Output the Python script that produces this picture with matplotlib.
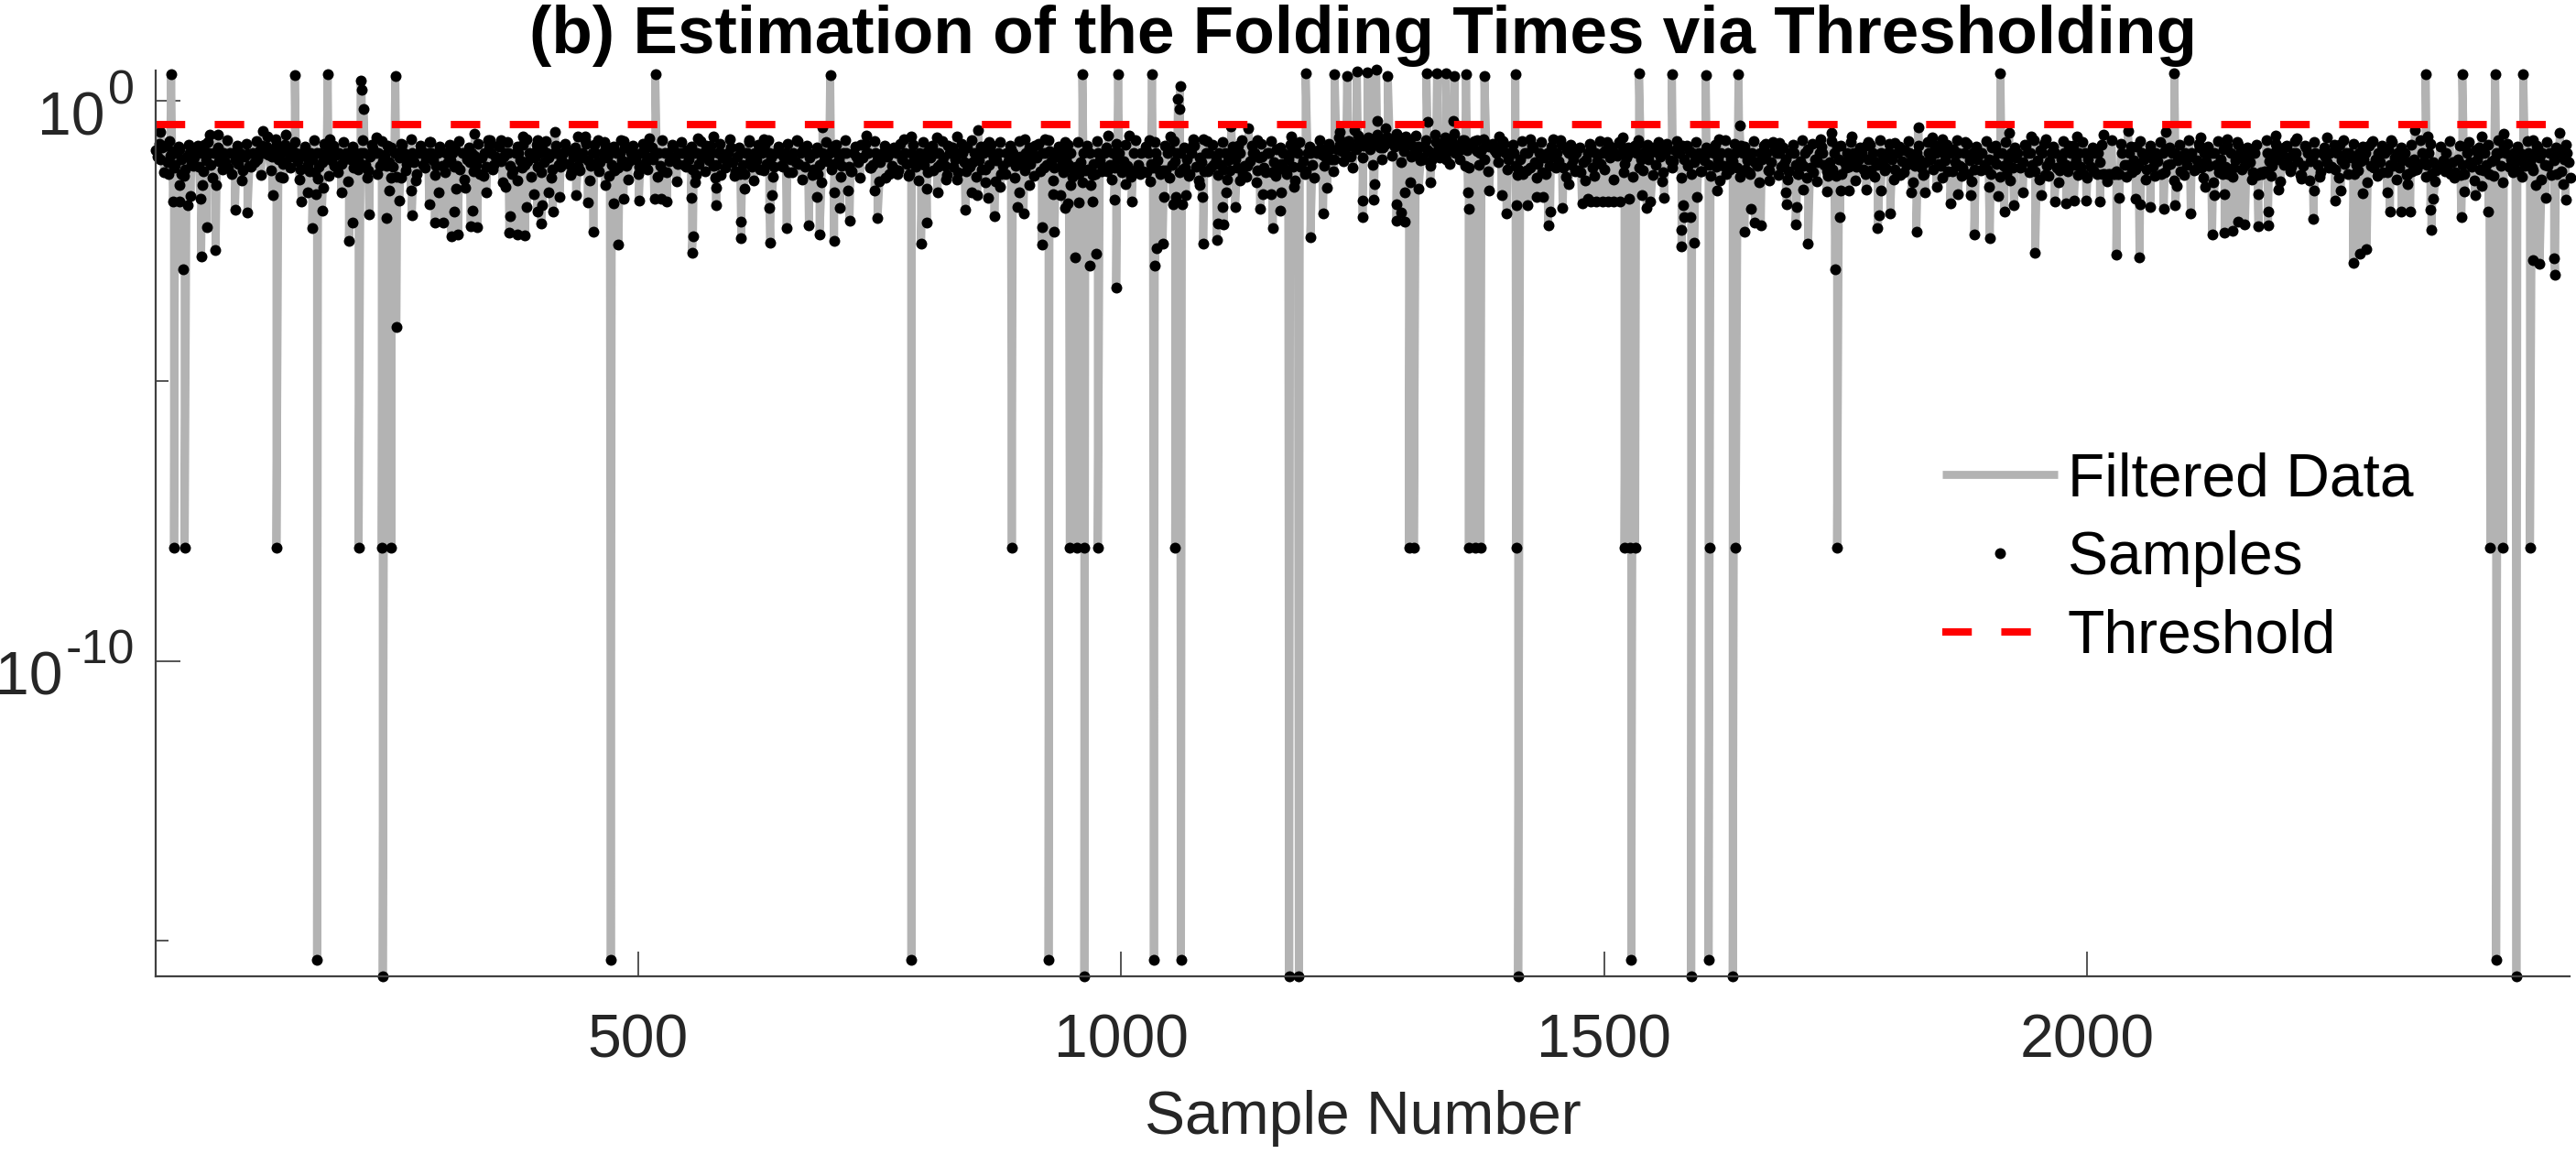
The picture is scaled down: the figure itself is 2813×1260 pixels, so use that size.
import matplotlib
matplotlib.use("Agg")
import matplotlib.pyplot as plt
import numpy as np

plt.rcParams['font.family'] = ['Liberation Sans', 'DejaVu Sans']

# all y values below are log10 of the sample
threshold_exp = -0.426

top_x = [17, 145, 179, 213, 214, 216, 249, 518, 699, 960, 997, 1032, 1059, 1060, 1061, 1191, 1221, 1234,
         1244, 1255, 1264, 1276, 1316, 1327, 1336, 1345, 1357, 1376, 1408, 1536, 1570, 1605, 1639, 1910,
         2090, 2350, 2388, 2422, 2451]
top_y = [0.47, 0.46, 0.47, 0.36, 0.19, -0.15, 0.44, 0.47, 0.46, 0.48, 0.47, 0.47, 0.04, -0.15, 0.27, 0.49,
         0.47, 0.45, 0.52, 0.50, 0.55, 0.45, 0.49, 0.49, 0.49, 0.45, 0.48, 0.45, 0.47, 0.49, 0.48, 0.46,
         0.47, 0.49, 0.49, 0.47, 0.48, 0.48, 0.48]

floor_x = [20, 31, 126, 211, 235, 245, 887, 947, 954, 962, 976, 1056, 1298, 1303, 1360, 1367, 1372, 1409,
           1521, 1527, 1532, 1609, 1636, 1741, 2417, 2430, 2458]
floor_y = [-7.98] * len(floor_x)

deep_x = [168, 472, 783, 925, 1034, 1062, 1528, 1608, 2423]
deep_y = [-15.33] * len(deep_x)
lowest_x = [236, 962, 1174, 1184, 1411, 1590, 1633, 2444]
lowest_y = [-15.63] * len(lowest_x)

low_x = [29, 48, 63, 54, 19, 26, 34, 37, 47, 64, 26, 14, 28, 49, 83, 96, 122, 133, 152, 163, 173, 158, 167, 174,
         169, 193, 201, 205, 222, 240, 243, 253, 245, 255, 265, 266, 250, 284, 294, 290, 299, 307, 314, 310, 312,
         321, 329, 327, 334, 343, 363, 368, 367, 375, 383, 375, 392, 385, 396, 400, 401, 412, 408, 419, 436, 448,
         454, 466, 475, 480, 485, 501, 517, 524, 530, 556, 557, 555, 581, 581, 559, 586, 607, 607, 610, 637, 636,
         639, 654, 677, 685, 688,
         703, 719, 748, 709, 703, 717, 745, 756, 769, 793, 799, 799, 810, 819, 839, 845, 851, 862, 869, 860, 875,
         895, 893, 899, 905, 918, 918, 931, 930, 937, 945, 942, 948, 956, 970, 969, 952, 968, 974, 995, 993, 1011,
         1005, 1035, 1037, 1043, 1044, 1057, 1054, 1063, 1067, 1081, 1084, 1085, 1099, 1100, 1106, 1105, 1109, 1118,
         1123, 1144, 1147, 1155, 1157, 1165, 1166, 1179, 1196, 1209, 1213, 1250, 1250, 1261, 1262, 1285, 1290, 1285,
         1294, 1294, 1299, 1308, 1320, 1359, 1360, 1381, 1394, 1399, 1409, 1421, 1430, 1437, 1444, 1442, 1457, 1463,
         1477, 1483, 1486, 1492, 1498, 1504, 1510, 1516, 1526, 1539, 1544, 1548, 1562, 1582, 1583, 1589, 1580, 1580,
         1593, 1596, 1617,
         1645, 1652, 1656, 1662, 1671, 1688, 1689, 1698, 1699, 1711, 1706, 1730, 1739, 1744, 1745, 1753, 1771, 1783,
         1784, 1796, 1786, 1818, 1823, 1832, 1844, 1858, 1866, 1879, 1883, 1899, 1898, 1914, 1908, 1924, 1933, 1946,
         1952, 1966, 1978, 1986, 1999, 2013, 2030, 2033, 2054, 2050, 2055, 2065, 2079, 2091, 2107, 2092, 2122, 2131,
         2142, 2129, 2142, 2150, 2156, 2163, 2177, 2187, 2187, 2177, 2198, 2221, 2234, 2235, 2256, 2262, 2275, 2282,
         2289, 2285, 2310, 2313, 2325, 2334, 2331, 2355, 2356, 2358, 2387, 2390, 2401, 2408, 2415, 2464, 2461, 2468,
         2483, 2484, 2474, 2495, 2492]
low_y = [-3.01, -2.78, -2.67, -2.26, -1.79, -1.80, -1.86, -1.70, -1.75, -1.50, -1.50, -1.30, -1.30, -1.50, -1.95, -1.99,
         -1.68, -1.38, -1.80, -2.27, -1.96, -1.64, -1.67, -1.56, -1.39, -1.64, -2.50, -2.17, -2.03, -2.10, -1.60, -1.78,
         -1.38, -1.37, -1.60, -2.05, -4.04, -1.84, -1.64, -2.17, -2.17, -2.42, -2.38, -1.98, -1.57, -1.56, -1.96, -2.24,
         -2.25, -1.64, -1.54, -2.06, -2.36, -2.39, -2.40, -1.42, -1.67, -1.90, -1.97, -2.19, -1.86, -1.97, -1.64, -1.72,
         -1.68, -1.82, -2.34, -1.51, -1.83, -2.57, -1.75, -1.78, -1.75, -1.75, -1.80, -2.72, -2.42, -1.74, -1.86, -1.56,
         -1.45, -1.32, -2.45, -2.15, -1.57, -2.53, -1.92, -1.68, -2.28, -2.23, -1.72, -2.39,
         -2.50, -2.14, -2.09, -1.91, -1.64, -1.60, -1.60, -1.37, -1.31, -2.55, -2.17, -1.57, -1.64, -1.41, -1.95, -1.64,
         -1.68, -1.74, -2.06, -1.45, -1.54, -1.63, -1.89, -2.01, -1.51, -2.25, -2.56, -2.33, -1.67, -1.68, -1.83, -1.91,
         -1.50, -1.82, -1.80, -1.50, -2.80, -2.94, -2.73, -3.34, -1.77, -1.79, -1.48, -2.94, -2.63, -2.55, -1.72, -1.72,
         -1.85, -1.85, -1.68, -1.50, -1.72, -2.55, -2.49, -2.19, -2.20, -1.89, -1.63, -1.90, -1.42, -1.93, -1.67, -1.66,
         -2.28, -1.96, -1.64, -1.54, -2.43, -2.01, -1.55, -2.08, -1.78, -1.77, -1.49, -1.84, -2.00, -2.14, -2.16, -1.63,
         -1.45, -1.57, -1.45, -1.63, -1.93, -1.60, -1.69, -2.01, -1.87, -1.86, -1.72, -1.72, -1.97, -2.22, -1.92, -1.48,
         -1.83, -1.75, -1.79, -1.79, -1.79, -1.79, -1.79, -1.79, -1.75, -1.69, -1.91, -1.80, -1.74, -1.86, -2.08, -2.08,
         -2.30, -2.60, -2.53, -1.72, -1.60,
         -2.34, -1.93, -2.17, -2.22, -1.42, -1.63, -1.85, -2.20, -1.89, -2.55, -1.58, -1.62, -3.01, -2.08, -1.61, -1.61,
         -1.58, -2.27, -2.05, -2.01, -1.60, -1.64, -2.34, -1.64, -1.54, -1.83, -1.67, -1.68, -2.39, -2.45, -1.53, -1.97,
         -1.70, -1.86, -1.63, -2.72, -1.69, -1.80, -1.83, -1.78, -1.78, -1.79, -2.75, -1.73, -2.80, -1.75, -1.85, -1.90,
         -1.93, -1.86, -2.01, -1.52, -1.53, -1.68, -1.67, -2.39, -2.35, -2.32, -2.16, -2.21, -2.24, -2.23, -1.97, -1.67,
         -1.58, -1.39, -2.11, -1.60, -1.78, -1.61, -2.90, -2.73, -2.65, -1.65, -1.64, -1.98, -1.97, -1.97, -1.48, -1.94,
         -2.31, -1.75, -2.07, -1.62, -1.69, -1.52, -1.98, -1.50, -2.84, -2.91, -2.81, -3.11, -1.73, -1.77, -1.49]

upper_x = [6, 57, 65, 112, 117, 136, 181, 229, 284, 331, 347, 358, 381, 396, 414, 438, 445, 459, 482, 512, 562, 578,
           615, 630, 664, 691, 736, 783, 809, 830, 852, 863, 900, 921, 942, 987, 1008, 1029, 1051, 1075, 1089, 1114,
           1132, 1141, 1176, 1226, 1241, 1265, 1274, 1317, 1344, 1353, 1368, 1391, 1423, 1447, 1503, 1519, 1535,
           1556, 1619, 1640, 1667, 1681, 1724, 1735, 1756, 1773, 1801, 1825, 1839, 1850, 1874, 1919, 1942, 1957,
           1989, 2017, 2042, 2081, 2117, 2145, 2195, 2217, 2248, 2294, 2314, 2339, 2352, 2408, 2431, 2461, 2489]
upper_y = [-0.55, -0.60, -0.60, -0.54, -0.63, -0.60, -0.68, -0.66, -0.74, -0.58, -0.71, -0.70, -0.64, -0.71, -0.56,
           -0.63, -0.63, -0.71, -0.70, -0.67, -0.67, -0.64, -0.71, -0.68, -0.71, -0.48, -0.62, -0.63, -0.66, -0.63,
           -0.52, -0.74, -0.68, -0.68, -0.74, -0.62, -0.62, -0.71, -0.63, -0.68, -0.72, -0.46, -0.49, -0.71, -0.64,
           -0.55, -0.52, -0.36, -0.49, -0.38, -0.36, -0.71, -0.71, -0.64, -0.68, -0.68, -0.74, -0.66, -0.77, -0.74,
           -0.68, -0.44, -0.77, -0.75, -0.68, -0.57, -0.63, -0.74, -0.75, -0.48, -0.66, -0.68, -0.74, -0.57, -0.63,
           -0.68, -0.63, -0.60, -0.54, -0.55, -0.66, -0.68, -0.62, -0.67, -0.66, -0.74, -0.71, -0.52, -0.63, -0.63,
           -0.58, -0.71, -0.57]

# dense band, one value every 5 samples, 20 values per row = 100 samples
band_x = np.arange(1, 2501, 5)
band_y = [
    -0.88, -1.05, -0.80, -0.98, -1.15, -0.86, -1.22, -0.93, -1.02, -1.18, -0.78, -0.93, -0.93, -1.08, -0.93, -1.20, -0.93, -1.12, -1.25, -0.95,
    -0.93, -1.04, -0.80, -0.82, -1.00, -0.78, -0.93, -1.10, -0.85, -0.93, -1.22, -1.00, -0.93, -1.28, -0.93, -1.02, -0.88, -1.16, -0.93, -1.05,
    -0.93, -1.20, -1.10, -0.93, -1.25, -0.85, -0.93, -1.08, -0.80, -1.18, -0.93, -0.78, -1.12, -0.93, -1.30, -0.88, -1.03, -0.93, -1.16, -0.90,
    -0.93, -1.06, -0.86, -1.22, -0.93, -1.10, -0.98, -1.30, -0.93, -0.80, -1.15, -0.82, -1.00, -0.93, -1.24, -0.93, -0.78, -1.08, -0.93, -1.18,
    -0.85, -0.93, -1.22, -0.93, -1.05, -0.88, -1.28, -0.93, -1.02, -0.76, -1.16, -0.93, -1.10, -0.80, -0.93, -1.25, -0.93, -0.84, -1.08, -0.93,
    -1.18, -0.93, -0.78, -1.04, -0.93, -1.26, -0.93, -0.82, -1.12, -0.93, -0.88, -1.22, -0.93, -1.00, -0.80, -0.93, -1.15, -0.93, -1.06, -0.84,
    -1.26, -1.30, -0.93, -1.08, -0.93, -1.22, -0.78, -0.93, -1.18, -0.93, -1.02, -1.28, -0.93, -1.12, -0.86, -0.93, -1.22, -1.30, -0.93, -1.08,
    -0.82, -0.93, -1.16, -0.93, -1.26, -1.00, -0.78, -0.93, -1.20, -0.93, -1.10, -0.85, -0.93, -1.22, -0.76, -0.93, -1.30, -1.05, -0.93, -1.14,
    -0.88, -1.24, -0.93, -1.02, -0.80, -1.18, -1.28, -0.93, -0.84, -1.10, -0.93, -1.22, -0.78, -0.93, -1.06, -1.30, -0.93, -0.86, -1.16, -1.00,
    -0.93, -1.12, -0.80, -1.26, -0.93, -0.90, -1.20, -1.02, -0.93, -1.14, -1.25, -1.30, -0.93, -1.22, -1.12, -0.93, -1.18, -1.26, -0.93, -1.05,
    -1.28, -1.16, -1.30, -1.22, -0.93, -1.28, -1.12, -0.93, -1.30, -1.25, -0.88, -1.08, -0.93, -1.20, -1.30, -0.80, -1.02, -1.26, -0.93, -1.14,
    -0.93, -1.22, -1.06, -0.93, -0.80, -1.30, -1.16, -0.93, -1.25, -1.00, -0.93, -1.28, -0.86, -1.12, -1.30, -0.93, -0.78, -1.18, -1.26, -0.93,
    -0.90, -0.85, -1.00, -0.86, -1.04, -0.78, -0.92, -0.72, -0.84, -0.70, -0.80, -0.66, -0.78, -0.72, -0.84, -0.66, -0.76, -0.62, -0.80, -0.70,
    -0.80, -0.93, -1.02, -0.86, -1.06, -0.74, -0.93, -1.05, -0.78, -0.93, -0.86, -1.16, -0.80, -0.72, -0.93, -1.04, -0.82, -0.88, -0.90, -0.76,
    -1.05, -0.93, -1.22, -1.30, -0.93, -0.84, -1.12, -1.28, -0.93, -1.00, -0.93, -0.78, -0.88, -1.15, -0.93, -1.28, -1.04, -0.82, -0.93, -1.12,
    -0.88, -1.02, -0.93, -0.76, -1.12, -0.93, -0.80, -1.20, -0.93, -1.05, -0.84, -0.93, -1.28, -0.86, -1.08, -0.93, -0.80, -1.16, -0.93, -1.02,
    -1.26, -0.93, -0.86, -1.18, -0.93, -1.30, -1.04, -0.93, -0.80, -1.22, -1.30, -1.10, -0.93, -1.02, -1.25, -0.84, -0.93, -1.12, -1.26, -0.93,
    -1.30, -1.16, -0.86, -1.28, -1.10, -0.93, -1.34, -1.22, -0.82, -1.30, -0.93, -1.08, -1.18, -0.93, -0.80, -1.25, -1.10, -0.93, -1.20, -0.93,
    -1.22, -1.32, -0.88, -0.93, -1.16, -1.04, -1.30, -0.93, -0.78, -1.12, -0.93, -1.26, -0.86, -0.93, -1.20, -1.30, -0.93, -1.05, -0.93, -1.22,
    -0.84, -1.12, -0.93, -1.30, -0.93, -1.02, -1.18, -0.80, -0.93, -1.26, -0.88, -1.32, -1.08, -0.93, -1.24, -0.93, -0.80, -1.14, -0.93, -1.30,
    -1.04, -1.25, -0.93, -1.30, -1.30, -1.30, -1.30, -0.93, -1.14, -1.28, -0.82, -0.93, -1.22, -1.02, -0.93, -1.30, -0.86, -1.12, -0.93, -1.26,
    -0.93, -1.00, -1.22, -0.84, -0.93, -1.16, -0.93, -1.28, -0.86, -1.30, -1.20, -0.78, -1.02, -0.93, -1.28, -1.32, -1.30, -0.93, -1.16, -0.80,
    -0.93, -0.80, -1.18, -0.93, -1.32, -0.84, -1.08, -0.93, -1.28, -1.00, -0.93, -1.22, -0.78, -1.12, -0.93, -1.30, -0.93, -1.04, -0.80, -1.20,
    -0.93, -1.28, -0.86, -1.16, -0.93, -1.06, -1.30, -1.26, -1.22, -0.93, -1.14, -1.30, -1.25, -1.20, -0.93, -1.30, -1.28, -1.32, -0.82, -1.10,
    -0.88, -1.22, -0.93, -1.30, -1.04, -0.93, -0.80, -1.18, -0.93, -1.26, -1.02, -0.93, -1.24, -0.84, -0.93, -1.16, -0.93, -1.30, -0.86, -0.93,
]
# second pass through the band, in between the first
band2_x = np.arange(3, 2501, 5)
band2_y = [
    -1.00, -0.84, -1.10, -0.90, -0.93, -1.05, -1.00, -1.12, -0.90, -0.93, -1.06, -1.14, -0.93, -1.00, -1.10, -0.93, -1.06, -0.93, -1.00, -1.16,
    -1.10, -0.90, -0.93, -0.96, -0.86, -1.04, -1.12, -0.93, -1.00, -1.08, -0.93, -1.14, -1.04, -0.93, -1.10, -0.93, -1.06, -0.96, -1.12, -0.93,
    -1.04, -0.93, -0.93, -1.14, -1.00, -0.93, -1.16, -0.96, -1.10, -0.93, -1.02, -0.93, -1.00, -1.10, -0.93, -1.14, -0.93, -1.06, -0.93, -1.16,
    -1.10, -0.93, -1.16, -0.93, -1.04, -0.93, -1.14, -1.02, -1.18, -0.93, -1.00, -1.08, -0.93, -1.16, -0.93, -1.06, -1.14, -0.93, -1.02, -0.93,
    -1.10, -1.02, -0.93, -1.14, -0.93, -1.12, -1.00, -1.16, -0.93, -1.06, -0.93, -1.10, -0.93, -1.02, -1.14, -0.93, -1.06, -1.16, -0.93, -1.04,
    -0.93, -1.10, -1.02, -0.93, -1.16, -0.93, -1.08, -1.00, -0.93, -1.14, -1.04, -0.93, -1.12, -0.93, -1.06, -1.16, -0.93, -1.02, -0.93, -1.10,
    -1.00, -1.14, -0.93, -1.18, -1.06, -0.93, -1.12, -1.02, -0.93, -1.16, -0.93, -1.04, -1.10, -0.93, -1.18, -1.02, -0.93, -1.14, -1.06, -0.93,
    -1.12, -1.04, -0.93, -1.18, -0.93, -1.10, -1.02, -0.93, -1.14, -1.06, -0.93, -1.00, -1.16, -0.93, -1.04, -1.12, -0.93, -1.18, -1.06, -0.93,
    -1.02, -0.93, -1.12, -1.16, -0.93, -1.04, -0.93, -1.10, -1.18, -0.93, -1.06, -0.93, -1.14, -1.02, -0.93, -1.16, -1.08, -0.93, -1.02, -1.14,
    -1.06, -0.93, -1.02, -0.93, -1.14, -1.08, -0.93, -1.16, -1.04, -0.93, -1.18, -1.10, -1.24, -0.93, -1.30, -1.06, -0.93, -1.14, -1.20, -0.93,
    -1.08, -1.24, -0.93, -1.14, -1.26, -0.93, -1.20, -1.06, -1.24, -0.93, -1.14, -0.93, -1.22, -1.04, -0.93, -1.18, -1.10, -0.93, -1.20, -1.04,
    -1.14, -0.93, -1.24, -1.04, -0.93, -1.16, -1.08, -0.93, -1.02, -1.20, -0.93, -1.10, -1.22, -0.93, -1.04, -1.18, -0.93, -1.08, -0.93, -1.14,
    -0.93, -0.96, -0.88, -1.04, -0.86, -0.90, -0.84, -1.00, -0.86, -0.78, -0.72, -0.86, -0.74, -0.84, -0.78, -0.70, -0.82, -0.76, -0.90, -0.74,
    -0.93, -0.82, -1.04, -0.90, -1.02, -0.88, -0.78, -0.90, -0.74, -0.82, -0.76, -0.88, -0.80, -0.90, -0.86, -0.76, -0.80, -0.93, -0.82, -0.93,
    -0.93, -1.16, -1.04, -0.93, -1.20, -1.10, -0.93, -1.02, -1.16, -0.93, -1.08, -1.20, -0.93, -1.04, -1.24, -1.10, -0.93, -1.20, -1.08, -0.93,
    -0.93, -0.84, -0.98, -0.93, -1.02, -0.88, -0.93, -1.04, -0.90, -0.93, -1.14, -1.00, -0.93, -1.06, -0.88, -0.93, -1.04, -0.90, -1.10, -0.93,
    -1.06, -1.14, -0.93, -1.04, -1.16, -0.93, -1.08, -1.20, -0.93, -1.06, -0.93, -1.16, -1.04, -0.93, -1.10, -0.93, -1.18, -1.04, -0.93, -1.14,
    -1.08, -0.93, -1.20, -1.04, -0.93, -1.14, -1.10, -0.93, -1.04, -1.10, -1.18, -0.93, -1.06, -1.22, -1.04, -0.93, -1.14, -1.06, -0.93, -1.04,
    -0.93, -1.08, -1.14, -1.06, -0.93, -1.20, -1.10, -1.04, -0.93, -1.16, -1.06, -0.93, -1.10, -1.16, -0.93, -1.06, -1.22, -0.93, -1.14, -1.04,
    -1.06, -0.93, -1.16, -1.04, -1.20, -0.93, -1.10, -0.93, -1.14, -1.06, -0.93, -1.16, -0.93, -1.20, -1.04, -1.14, -0.93, -1.06, -1.18, -0.93,
    -1.18, -0.93, -1.10, -1.30, -1.30, -1.30, -1.30, -1.14, -0.93, -1.06, -1.16, -1.04, -0.93, -1.18, -1.08, -0.93, -1.14, -0.93, -1.06, -1.02,
    -1.14, -0.93, -1.06, -1.20, -1.08, -0.93, -1.14, -1.04, -1.18, -0.93, -1.06, -0.93, -1.16, -1.10, -0.93, -1.30, -1.26, -1.08, -0.93, -1.04,
    -1.14, -1.02, -0.93, -1.08, -1.16, -0.93, -1.02, -1.14, -0.93, -1.10, -1.18, -0.93, -1.06, -0.93, -1.02, -1.14, -1.08, -0.93, -1.16, -1.04,
    -1.10, -0.93, -1.14, -1.02, -1.20, -0.93, -1.10, -1.04, -1.14, -1.08, -0.93, -1.10, -1.16, -1.06, -1.14, -1.10, -1.04, -1.14, -0.93, -1.18,
    -1.04, -0.93, -1.14, -1.08, -0.93, -1.16, -0.93, -1.04, -1.10, -0.93, -1.16, -1.08, -0.93, -1.02, -1.14, -0.93, -1.06, -0.93, -1.04, -1.10,
]
# third pass, the outer edges of the band
band3_x = np.arange(5, 2501, 5)
band3_y = [
    -0.76, -1.28, -0.72, -1.20, -0.82, -1.34, -0.78, -1.16, -0.80, -1.26, -0.74, -1.38, -0.84, -1.22, -0.70, -1.30, -0.80, -1.42, -0.76, -1.18,
    -0.72, -1.32, -0.84, -1.24, -0.68, -1.36, -0.78, -1.20, -0.74, -1.40, -0.82, -1.26, -0.70, -1.18, -0.76, -1.34, -0.80, -1.28, -0.74, -1.44,
    -0.82, -1.22, -0.70, -1.38, -0.78, -1.30, -0.72, -1.16, -0.84, -1.36, -0.76, -1.24, -0.68, -1.42, -0.80, -1.20, -0.74, -1.32, -0.82, -1.28,
    -0.78, -1.18, -0.72, -1.40, -0.84, -1.26, -0.76, -1.34, -0.70, -1.22, -0.80, -1.46, -0.74, -1.30, -0.82, -1.20, -0.68, -1.36, -0.78, -1.28,
    -0.72, -1.38, -0.80, -1.18, -0.76, -1.32, -0.84, -1.24, -0.70, -1.42, -0.78, -1.26, -0.74, -1.34, -0.82, -1.20, -0.72, -1.40, -0.80, -1.30,
    -0.76, -1.22, -0.84, -1.36, -0.70, -1.28, -0.78, -1.44, -0.74, -1.18, -0.82, -1.32, -0.72, -1.26, -0.80, -1.38, -0.76, -1.20, -0.68, -1.34,
    -0.84, -1.30, -0.74, -1.42, -0.78, -1.24, -0.70, -1.36, -0.82, -1.18, -0.76, -1.28, -0.72, -1.40, -0.80, -1.32, -0.84, -1.46, -0.74, -1.22,
    -0.78, -1.36, -0.70, -1.26, -0.82, -1.38, -0.76, -1.20, -0.72, -1.44, -0.80, -1.30, -0.84, -1.24, -0.68, -1.34, -0.78, -1.42, -0.74, -1.28,
    -0.80, -1.18, -0.72, -1.32, -0.84, -1.40, -0.76, -1.26, -0.70, -1.36, -0.82, -1.22, -0.78, -1.44, -0.74, -1.30, -0.80, -1.38, -0.72, -1.24,
    -0.84, -1.34, -0.76, -1.20, -0.70, -1.42, -0.82, -1.28, -0.78, -1.36, -0.74, -1.46, -0.80, -1.32, -0.72, -1.26, -0.84, -1.40, -0.76, -1.22,
    -0.78, -1.36, -0.70, -1.30, -0.82, -1.44, -0.74, -1.24, -0.80, -1.38, -0.72, -1.28, -0.84, -1.34, -0.76, -1.42, -0.68, -1.26, -0.78, -1.32,
    -0.74, -1.40, -0.82, -1.20, -0.70, -1.36, -0.80, -1.46, -0.76, -1.28, -0.72, -1.34, -0.84, -1.22, -0.78, -1.42, -0.74, -1.30, -0.82, -1.38,
    -0.70, -1.16, -0.76, -1.26, -0.66, -1.08, -0.72, -1.20, -0.62, -1.02, -0.68, -1.14, -0.60, -1.04, -0.66, -0.98, -0.58, -1.10, -0.64, -1.00,
    -0.62, -1.06, -0.70, -1.16, -0.60, -1.02, -0.66, -1.12, -0.58, -1.04, -0.70, -1.20, -0.74, -1.14, -0.68, -1.26, -0.76, -1.10, -0.72, -1.22,
    -0.78, -1.32, -0.72, -1.24, -0.80, -1.38, -0.74, -1.30, -0.82, -1.20, -0.70, -1.36, -0.78, -1.26, -0.84, -1.42, -0.76, -1.34, -0.72, -1.22,
    -0.80, -1.40, -0.74, -1.28, -0.84, -1.36, -0.70, -1.24, -0.78, -1.32, -0.82, -1.44, -0.76, -1.20, -0.72, -1.38, -0.80, -1.30, -0.74, -1.26,
    -0.84, -1.34, -0.78, -1.42, -0.70, -1.22, -0.76, -1.36, -0.82, -1.28, -0.72, -1.46, -0.80, -1.24, -0.74, -1.32, -0.84, -1.40, -0.78, -1.30,
    -0.70, -1.38, -0.76, -1.44, -0.82, -1.26, -0.72, -1.34, -0.80, -1.20, -0.74, -1.42, -0.84, -1.30, -0.78, -1.36, -0.70, -1.24, -0.76, -1.40,
    -0.82, -1.28, -0.72, -1.46, -0.80, -1.32, -0.74, -1.22, -0.84, -1.38, -0.78, -1.26, -0.70, -1.34, -0.76, -1.44, -0.82, -1.24, -0.72, -1.30,
    -0.80, -1.36, -0.74, -1.42, -0.84, -1.20, -0.78, -1.28, -0.70, -1.40, -0.76, -1.34, -0.82, -1.46, -0.72, -1.26, -0.80, -1.32, -0.74, -1.38,
    -0.84, -1.30, -0.78, -1.44, -0.70, -1.26, -0.76, -1.36, -0.82, -1.22, -0.72, -1.40, -0.80, -1.34, -0.74, -1.28, -0.84, -1.42, -0.78, -1.32,
    -0.70, -1.24, -0.76, -1.38, -0.82, -1.46, -0.72, -1.30, -0.80, -1.36, -0.74, -1.22, -0.84, -1.40, -0.78, -1.28, -0.70, -1.34, -0.76, -1.44,
    -0.82, -1.26, -0.72, -1.32, -0.80, -1.42, -0.74, -1.36, -0.84, -1.20, -0.78, -1.38, -0.70, -1.30, -0.76, -1.24, -0.82, -1.46, -0.72, -1.34,
    -0.80, -1.28, -0.74, -1.40, -0.84, -1.32, -0.78, -1.22, -0.70, -1.36, -0.76, -1.44, -0.82, -1.26, -0.72, -1.38, -0.80, -1.30, -0.74, -1.42,
    -0.84, -1.24, -0.78, -1.34, -0.70, -1.46, -0.76, -1.28, -0.82, -1.36, -0.72, -1.20, -0.80, -1.40, -0.74, -1.32, -0.84, -1.26, -0.78, -1.38,
]

x_ticks = [500, 1000, 1500, 2000]
x_tick_labels = ['500', '1000', '1500', '2000']
y_major = [1e0, 1e-10]
y_minor = [1e-5, 1e-15]

all_x = np.concatenate([band_x, band2_x, band3_x, top_x, floor_x, deep_x, lowest_x, low_x, upper_x])
all_y = np.concatenate([band_y, band2_y, band3_y, top_y, floor_y, deep_y, lowest_y, low_y, upper_y])
order = np.argsort(all_x, kind='stable')
samples_x = all_x[order]
samples_y = 10.0 ** all_y[order]

W, H = 2813, 1260
fig = plt.figure(figsize=(W / 100, H / 100), dpi=100)
ax = fig.add_axes([170 / W, 1 - 1066 / H, (2806 - 170) / W, (1066 - 77) / H])

ax.plot(samples_x, samples_y, color='#b3b3b3', lw=6.3, solid_joinstyle='bevel', solid_capstyle='butt',
        label='Filtered Data')
ax.plot(samples_x, samples_y, ls='none', marker='o', ms=8.6, mew=0, color='k', clip_on=False, label='Samples')
ax.plot([1, 2499], [10.0 ** threshold_exp] * 2, color='#ff0000', lw=5.8, dashes=(4, 4), dash_capstyle='butt',
        label='Threshold')

ax.set_yscale('log')
ax.set_xlim(1, 2499)
ax.set_ylim(10.0 ** -15.63, 10.0 ** 0.54)

for s in ['top', 'right']:
    ax.spines[s].set_visible(False)
for s in ['left', 'bottom']:
    ax.spines[s].set_color('#404040')
    ax.spines[s].set_linewidth(1.6)

ax.set_xticks(x_ticks)
ax.set_xticklabels(x_tick_labels)
ax.set_yticks(y_major)
ax.set_yticklabels([])
ax.set_yticks(y_minor, minor=True)
ax.set_yticklabels([], minor=True)
ax.tick_params(axis='x', which='major', direction='in', length=19.5, width=1.1, color='#262626',
               labelsize=47.5, labelcolor='#262626', pad=29)
ax.tick_params(axis='y', which='major', direction='in', length=19.5, width=1.1, color='#262626')
ax.tick_params(axis='y', which='minor', direction='in', length=10, width=1.1, color='#262626')

# y labels written out so the exponent size and place match
ytrans = ax.get_yaxis_transform()
for val, base_right, sup in [(1e0, -56, '0'), (1e-10, -102, '-10')]:
    ax.annotate('10', xy=(0, val), xycoords=ytrans, xytext=(base_right * 0.72, -37 * 0.72),
                textcoords='offset points', ha='right', va='baseline', fontsize=47.5, color='#262626',
                annotation_clip=False)
    ax.annotate(sup, xy=(0, val), xycoords=ytrans, xytext=(-23 * 0.72, -3 * 0.72),
                textcoords='offset points', ha='right', va='baseline', fontsize=37.5, color='#262626',
                annotation_clip=False)

ax.set_xlabel('Sample Number', fontsize=47.5, color='#262626', labelpad=16)
ax.set_title('(b) Estimation of the Folding Times via Thresholding', fontsize=52.5, fontweight='bold', color='k', pad=14)

ax.legend(loc='upper left', bbox_to_anchor=(0.740, 0.579), frameon=False, fontsize=47.5, handlelength=1.91,
          handletextpad=0.17, labelspacing=0.36, borderpad=0, borderaxespad=0, numpoints=1)

fig.savefig('out.png', dpi=100)
